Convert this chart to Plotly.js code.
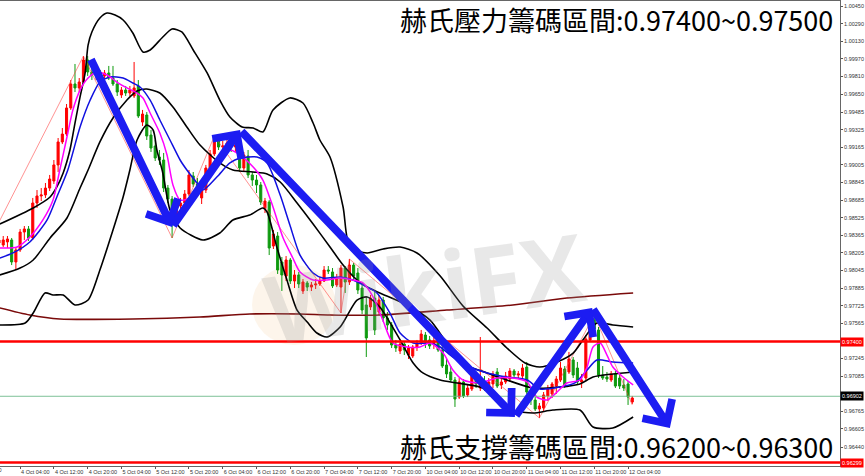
<!DOCTYPE html>
<html>
<head>
<meta charset="utf-8">
<script src="https://cdn.plot.ly/plotly-3.0.1.min.js"></script>
<style>html,body{margin:0;padding:0;background:#fff;}#chart{width:865px;height:476px;}</style>
</head>
<body>
<div id="chart"></div>
<script>
// ---- hourly OHLC bars, 3 Oct 23:00 -> 12 Oct 05:00 (bar index = category) ----
const openP = [0.98295,0.98277,0.98305,0.98323,0.98123,0.98232,0.98395,0.98423,0.98341,0.98659,
0.98723,0.98732,0.98795,0.98859,0.99005,0.99214,0.99286,0.99523,0.99741,0.99705,
0.99759,0.99959,0.99850,0.99823,0.99832,0.99814,0.99841,0.99795,0.99741,0.99641,
0.99686,0.99659,0.99632,0.99723,0.99395,0.99459,0.99277,0.99177,0.99077,0.99050,
0.98795,0.98695,0.98550,0.98632,0.98659,0.98741,0.98905,0.98832,0.98705,0.98777,
0.98977,0.99105,0.99223,0.99168,0.99177,0.99205,0.99168,0.99195,0.98977,0.99086,
0.98914,0.98868,0.98823,0.98614,0.98668,0.98268,0.98359,0.98123,0.97995,0.98141,
0.97950,0.98005,0.97859,0.97932,0.97895,0.97914,0.97923,0.97950,0.98050,0.98032,
0.97914,0.97895,0.98068,0.97941,0.98095,0.98023,0.97886,0.97732,0.97714,0.97795,
0.97668,0.97777,0.97614,0.97550,0.97368,0.97314,0.97377,0.97277,0.97268,0.97350,
0.97386,0.97459,0.97414,0.97377,0.97395,0.97323,0.97186,0.97123,0.97050,0.96895,
0.97032,0.96914,0.96968,0.97086,0.96977,0.97023,0.96977,0.97014,0.97123,0.97005,
0.97032,0.97059,0.97132,0.97095,0.97086,0.97168,0.96941,0.96868,0.96786,0.96795,
0.96905,0.96923,0.96995,0.97050,0.97150,0.97123,0.97232,0.97159,0.97032,0.97068,
0.97414,0.97595,0.97505,0.97095,0.97077,0.97050,0.97105,0.97068,0.97005,0.97014,
0.96850];
const highP = [0.98350,0.98359,0.98359,0.98341,0.98259,0.98423,0.98450,0.98450,0.98705,0.98777,
0.98795,0.98841,0.98914,0.99050,0.99250,0.99341,0.99559,0.99777,0.99923,0.99795,
0.99995,0.99995,0.99959,0.99868,0.99868,0.99868,0.99905,0.99905,0.99777,0.99714,
0.99723,0.99723,0.99941,0.99777,0.99505,0.99486,0.99323,0.99232,0.99141,0.99114,
0.98823,0.98723,0.98686,0.98705,0.98777,0.98959,0.98941,0.98886,0.98814,0.99005,
0.99141,0.99268,0.99250,0.99223,0.99250,0.99232,0.99223,0.99223,0.99123,0.99141,
0.98941,0.98914,0.98850,0.98705,0.98686,0.98414,0.98395,0.98168,0.98177,0.98159,
0.98050,0.98032,0.97968,0.97950,0.97941,0.97968,0.97986,0.98086,0.98086,0.98068,
0.98014,0.98095,0.98086,0.98150,0.98114,0.98068,0.97941,0.97805,0.97823,0.97868,
0.97823,0.97805,0.97668,0.97577,0.97414,0.97405,0.97395,0.97368,0.97368,0.97414,
0.97505,0.97486,0.97450,0.97441,0.97432,0.97359,0.97250,0.97177,0.97077,0.97068,
0.97059,0.97005,0.97123,0.97114,0.97441,0.97086,0.97068,0.97132,0.97159,0.97068,
0.97123,0.97159,0.97150,0.97132,0.97195,0.97214,0.96959,0.96895,0.96841,0.96941,
0.97005,0.97032,0.97086,0.97214,0.97177,0.97305,0.97259,0.97214,0.97105,0.97459,
0.97559,0.97641,0.97532,0.97177,0.97123,0.97132,0.97132,0.97105,0.97059,0.97041,
0.96905];
const lowP = [0.98250,0.98259,0.98250,0.98095,0.98050,0.98214,0.98323,0.98314,0.98323,0.98614,
0.98677,0.98705,0.98768,0.98832,0.98941,0.99195,0.99268,0.99505,0.99668,0.99668,
0.99741,0.99814,0.99777,0.99777,0.99786,0.99786,0.99777,0.99723,0.99632,0.99614,
0.99632,0.99632,0.99614,0.99432,0.99359,0.99232,0.99123,0.99041,0.99005,0.98759,
0.98659,0.98341,0.98523,0.98605,0.98641,0.98723,0.98805,0.98759,0.98650,0.98750,
0.98941,0.99086,0.99141,0.99132,0.99132,0.99123,0.99123,0.98941,0.98941,0.98886,
0.98814,0.98750,0.98641,0.98568,0.98186,0.98241,0.98014,0.97859,0.97950,0.97923,
0.97886,0.97886,0.97832,0.97859,0.97859,0.97877,0.97905,0.97941,0.98014,0.97886,
0.97895,0.97659,0.97841,0.97914,0.97959,0.97832,0.97650,0.97259,0.97686,0.97459,
0.97641,0.97577,0.97505,0.97341,0.97305,0.97286,0.97277,0.97241,0.97250,0.97314,
0.97368,0.97341,0.97332,0.97332,0.97305,0.97159,0.97068,0.97032,0.96805,0.96877,
0.96886,0.96895,0.96950,0.96977,0.96950,0.96950,0.96959,0.96977,0.96977,0.96968,
0.97014,0.97032,0.97068,0.97059,0.97059,0.96923,0.96823,0.96768,0.96705,0.96768,
0.96859,0.96886,0.96923,0.97032,0.96977,0.97105,0.97068,0.97005,0.96977,0.97050,
0.97395,0.97495,0.97068,0.97050,0.97032,0.97032,0.96977,0.96968,0.96950,0.96823,
0.96832];
const closeP = [0.98323,0.98323,0.98332,0.98123,0.98232,0.98395,0.98423,0.98341,0.98659,0.98723,
0.98732,0.98795,0.98877,0.99005,0.99214,0.99286,0.99523,0.99741,0.99705,0.99759,
0.99959,0.99850,0.99823,0.99832,0.99814,0.99841,0.99795,0.99741,0.99668,0.99686,
0.99659,0.99686,0.99705,0.99450,0.99468,0.99268,0.99159,0.99068,0.99050,0.98795,
0.98695,0.98550,0.98632,0.98659,0.98741,0.98914,0.98832,0.98795,0.98777,0.98977,
0.99105,0.99223,0.99168,0.99177,0.99205,0.99168,0.99186,0.98977,0.99095,0.98914,
0.98868,0.98823,0.98668,0.98677,0.98250,0.98377,0.98050,0.98005,0.98141,0.97950,
0.98005,0.97923,0.97941,0.97895,0.97914,0.97923,0.97950,0.98050,0.98041,0.97905,
0.97977,0.98068,0.97941,0.98095,0.97995,0.97868,0.97686,0.97432,0.97795,0.97505,
0.97777,0.97614,0.97550,0.97368,0.97341,0.97377,0.97323,0.97341,0.97350,0.97386,
0.97468,0.97395,0.97359,0.97405,0.97323,0.97177,0.97105,0.97050,0.96877,0.97032,
0.96905,0.96977,0.97095,0.97014,0.97023,0.96977,0.97032,0.97105,0.96995,0.97032,
0.97086,0.97132,0.97095,0.97105,0.97159,0.96941,0.96868,0.96786,0.96814,0.96914,
0.96968,0.97014,0.97059,0.97159,0.97005,0.97241,0.97095,0.97032,0.97050,0.97423,
0.97523,0.97514,0.97095,0.97068,0.97059,0.97105,0.96995,0.96995,0.96977,0.96895,
0.96886];

// ---- indicator lines (bar index, price) ----
const bbUpperX = [0.2,8.1,12.1,13.7,15.2,16.8,18.0,19.2,20.4,21.1,22.0,23.9,25.6,27.5,29.4,31.7,34.1,35.8,38.8,41.0,43.3,46.0,49.3,52.3,54.7,57.6,60.2,62.5,64.9,68.9,72.0,74.4,76.0,78.4,81.5,83.1,87.2,91.0,95.0,99.0,104.5,109.9,115.6,120.3,124.6,128.1,132.2,136.0,138.3,141.6,145.4,150.2];
const bbUpperY = [0.98468,0.98614,0.98714,0.98805,0.98932,0.99141,0.99386,0.99623,0.99841,1.00095,1.00214,1.00341,1.00386,1.00368,1.00323,1.00205,1.00032,1.00050,1.00168,1.00241,1.00214,1.00050,0.99841,0.99595,0.99441,0.99350,0.99341,0.99305,0.99505,0.99614,0.99568,0.99386,0.99232,0.99077,0.98623,0.98259,0.98205,0.98241,0.98259,0.98205,0.97995,0.97723,0.97523,0.97341,0.97205,0.97168,0.97214,0.97295,0.97414,0.97568,0.97550,0.97532];
const bbMidX = [0.2,5.0,8.1,12.1,16.1,19.2,21.1,23.9,27.0,30.3,32.7,35.0,38.1,41.2,44.5,47.6,52.3,55.4,60.2,63.5,66.6,70.6,74.4,78.4,81.5,84.8,87.2,90.2,96.6,102.1,106.1,110.8,115.6,120.3,126.5,132.9,137.6,140.7,145.4,150.2];
const bbMidY = [0.98005,0.98068,0.98141,0.98341,0.98523,0.98795,0.98959,0.99214,0.99432,0.99595,0.99677,0.99695,0.99659,0.99532,0.99350,0.99186,0.99023,0.98959,0.98941,0.98923,0.98850,0.98659,0.98468,0.98259,0.98095,0.97959,0.97895,0.97841,0.97732,0.97595,0.97386,0.97186,0.97114,0.97050,0.96977,0.96986,0.97014,0.97077,0.97105,0.97123];
const bbLowerX = [0.2,6.2,8.1,10.9,12.8,15.2,18.0,21.1,23.9,27.0,29.4,31.0,32.7,35.0,36.5,37.4,38.8,40.5,42.9,48.3,52.3,55.4,59.4,62.5,63.5,65.8,68.2,70.6,73.0,75.3,77.7,80.8,84.8,87.2,90.2,95.0,98.1,100.4,104.5,108.5,113.9,117.9,121.7,126.5,131.2,137.6,140.7,145.4,150.2];
const bbLowerY = [0.97550,0.97568,0.97659,0.97841,0.97823,0.97823,0.97732,0.97777,0.98050,0.98414,0.98714,0.98959,0.99232,0.99368,0.99323,0.99141,0.98932,0.98595,0.98432,0.98323,0.98386,0.98505,0.98550,0.98614,0.98577,0.98259,0.97959,0.97686,0.97577,0.97477,0.97441,0.97532,0.97777,0.97805,0.97714,0.97414,0.97205,0.97114,0.97050,0.97023,0.96986,0.96895,0.96777,0.96750,0.96777,0.96777,0.96623,0.96614,0.96714];
const maSlowX = [0.2,3.3,7.3,11.4,13.7,16.3,19.2,21.6,23.9,26.3,29.4,31.7,33.4,35.8,38.1,40.5,42.9,44.5,46.9,48.3,51.6,54.7,57.1,61.1,63.5,66.6,68.9,71.3,74.4,76.7,80.8,83.8,87.2,89.5,92.6,95.0,98.1,102.1,104.5,107.5,111.6,115.6,120.3,125.1,128.1,132.9,136.4,139.3,141.6,145.4,150.2];
const maSlowY = [0.98159,0.98205,0.98305,0.98505,0.98714,0.98959,0.99350,0.99595,0.99759,0.99805,0.99795,0.99750,0.99714,0.99595,0.99414,0.99232,0.99050,0.98959,0.98841,0.98777,0.98895,0.99023,0.99068,0.99077,0.99023,0.98732,0.98459,0.98186,0.98023,0.97977,0.97986,0.97959,0.97895,0.97841,0.97659,0.97477,0.97386,0.97386,0.97350,0.97259,0.97168,0.97114,0.97077,0.97050,0.96968,0.96986,0.97023,0.97141,0.97232,0.97214,0.97205];
const maFastX = [0.2,4.3,7.3,10.4,12.8,14.4,16.1,17.5,19.2,21.1,23.2,25.6,27.9,30.3,32.7,34.1,35.8,38.1,39.8,41.2,42.9,45.2,47.6,49.3,51.6,54.7,57.1,60.2,62.5,64.9,67.3,69.6,71.3,74.4,77.7,80.8,83.8,86.2,88.6,90.9,93.3,96.6,99.7,102.1,105.2,107.5,109.9,113.9,117.9,121.7,125.1,127.4,129.8,132.2,134.5,137.6,139.3,140.7,142.4,144.0,145.4,147.8,150.2];
const maFastY = [0.98250,0.98259,0.98350,0.98505,0.98686,0.98959,0.99259,0.99505,0.99686,0.99795,0.99850,0.99823,0.99759,0.99705,0.99659,0.99614,0.99477,0.99295,0.99095,0.98823,0.98686,0.98705,0.98777,0.98868,0.99050,0.99141,0.99095,0.98986,0.98868,0.98623,0.98341,0.98159,0.98032,0.97959,0.97959,0.97977,0.97959,0.97932,0.97805,0.97595,0.97386,0.97350,0.97350,0.97386,0.97295,0.97141,0.97050,0.97023,0.97068,0.97068,0.97032,0.96895,0.96868,0.96941,0.97023,0.97050,0.97168,0.97350,0.97386,0.97277,0.97168,0.97077,0.97005];
const ma200X = [0.2,7.3,14.4,31.7,47.6,59.4,71.3,78.4,90.2,106.1,121.7,134.5,150.2];
const ma200Y = [0.97705,0.97641,0.97605,0.97605,0.97623,0.97650,0.97650,0.97641,0.97641,0.97686,0.97732,0.97795,0.97841];
const zigzagX = [0,20,41,51,81,83,128,141,150];
const zigzagY = [0.98486,0.99995,0.98341,0.99268,0.97659,0.98150,0.96705,0.97641,0.96823];

// ---- drawn trend arrows: [tailIdx, tailPrice, headIdx, headPrice] ----
const trendArrows = [
  [21.6,0.99977,41.0,0.98441],
  [41.0,0.98441,57.1,0.99323],
  [57.1,0.99323,122.2,0.96714],
  [122.2,0.96714,140.5,0.97705],
  [140.5,0.97705,158.9,0.96614]
];

// ---- levels & labels ----
const resistLevel = 0.97400;
const supportLevel = 0.96299;
const lastPrice = 0.96902;
const titleTop = '赫氏壓力籌碼區間:0.97400~0.97500';
const titleBottom = '赫氏支撐籌碼區間:0.96200~0.96300';
const cutTickText = '3 Oct 20:00';
const xTickIdx = [5,13,21,29,37,45,53,61,69,77,85,93,101,109,117,125,133,141,149];
const xTickText = ['4 Oct 04:00','4 Oct 12:00','4 Oct 20:00','5 Oct 04:00','5 Oct 12:00','5 Oct 20:00','6 Oct 04:00','6 Oct 12:00','6 Oct 20:00','7 Oct 04:00','7 Oct 12:00','7 Oct 20:00','10 Oct 04:00','10 Oct 12:00','10 Oct 20:00','11 Oct 04:00','11 Oct 12:00','11 Oct 20:00','12 Oct 04:00'];
const yTickText = ['1.00450','1.00290','1.00130','0.99970','0.99810','0.99650','0.99485','0.99325','0.99165','0.99005','0.98845','0.98685','0.98525','0.98365','0.98205','0.98045','0.97885','0.97725','0.97565','0.97245','0.97085','0.96765','0.96605','0.96440'];
const yTickVals = yTickText.map(Number);
const barIdx = openP.map((_, k) => k);

const lineTrace = (x, y, color, width) => ({
  type: 'scatter', mode: 'lines', x: x, y: y, hoverinfo: 'skip',
  line: {color: color, width: width, shape: 'spline', smoothing: 0.7}
});

const traces = [
  {
    type: 'candlestick', x: barIdx, open: openP, high: highP, low: lowP, close: closeP,
    increasing: {line: {color: '#ff0000', width: 1}, fillcolor: '#ff0000'},
    decreasing: {line: {color: '#0f9a0f', width: 1}, fillcolor: '#0f9a0f'},
    whiskerwidth: 0, hoverinfo: 'skip'
  },
  {type: 'scatter', mode: 'lines', x: zigzagX, y: zigzagY, hoverinfo: 'skip', line: {color: 'rgba(255,60,60,0.8)', width: 0.7}},
  lineTrace(ma200X, ma200Y, '#7a0a0a', 1.6),
  lineTrace(bbUpperX, bbUpperY, '#000000', 1.6),
  lineTrace(bbMidX, bbMidY, '#000000', 1.6),
  lineTrace(bbLowerX, bbLowerY, '#000000', 1.6),
  lineTrace(maSlowX, maSlowY, '#1010e0', 1.5),
  lineTrace(maFastX, maFastY, '#ff00ff', 1.5)
];

const axisFont = {family: 'Liberation Sans', size: 5.5, color: '#333'};
const annotations = [];
trendArrows.forEach(a => {
  annotations.push({
    x: a[2], y: a[3], ax: a[0], ay: a[1], xref: 'x', yref: 'y', axref: 'x', ayref: 'y',
    text: '', showarrow: true, arrowhead: 4, arrowsize: 0.85, arrowwidth: 8,
    arrowcolor: '#1c1cf2', standoff: 0, startstandoff: 0
  });
});
annotations.push(
  {xref: 'paper', yref: 'paper', x: 0.994, y: 0.96, xanchor: 'right', yanchor: 'middle', showarrow: false,
   text: titleTop, font: {family: 'Noto Sans CJK TC', size: 27, color: '#000'}},
  {xref: 'paper', yref: 'paper', x: 0.994, y: 0.041, xanchor: 'right', yanchor: 'middle', showarrow: false,
   text: titleBottom, font: {family: 'Noto Sans CJK TC', size: 27, color: '#000'}},
  {xref: 'paper', yref: 'paper', x: 0.505, y: 0.385, xanchor: 'center', yanchor: 'middle', showarrow: false, textangle: -8,
   text: '<b>WikiFX</b>', font: {family: 'Open Sans', size: 94, color: 'rgba(150,150,150,0.22)'}},
  {xref: 'paper', yref: 'y', x: 1, y: resistLevel, xanchor: 'left', yanchor: 'middle', showarrow: false,
   text: resistLevel.toFixed(5), bgcolor: '#ff0000', borderpad: 1, font: {family: 'Liberation Sans', size: 5.5, color: '#fff'}},
  {xref: 'paper', yref: 'y', x: 1, y: lastPrice, xanchor: 'left', yanchor: 'middle', showarrow: false,
   text: lastPrice.toFixed(5), bgcolor: '#000000', borderpad: 1, font: {family: 'Liberation Sans', size: 5.5, color: '#fff'}},
  {xref: 'paper', yref: 'y', x: 1, y: supportLevel, xanchor: 'left', yanchor: 'middle', showarrow: false,
   text: supportLevel.toFixed(5), bgcolor: '#ff0000', borderpad: 1, font: {family: 'Liberation Sans', size: 5.5, color: '#fff'}},
  {xref: 'paper', yref: 'paper', x: 0.004, y: -0.0095, xanchor: 'right', yanchor: 'middle', showarrow: false,
   text: cutTickText, font: axisFont}
);

const shapes = [
  {type: 'circle', xref: 'paper', yref: 'paper', x0: 0.30, x1: 0.40, y0: 0.26, y1: 0.432,
   fillcolor: 'rgba(240,195,130,0.16)', line: {width: 0}, layer: 'below'},
  {type: 'line', xref: 'paper', yref: 'y', x0: 0, x1: 1, y0: lastPrice, y1: lastPrice,
   line: {color: 'rgba(110,185,140,0.9)', width: 1}},
  {type: 'line', xref: 'paper', yref: 'y', x0: 0, x1: 1, y0: resistLevel, y1: resistLevel,
   line: {color: '#ff0000', width: 2.5}},
  {type: 'line', xref: 'paper', yref: 'y', x0: 0, x1: 1, y0: supportLevel, y1: supportLevel,
   line: {color: '#ff0000', width: 2.5}}
];

const layout = {
  width: 865, height: 476,
  margin: {l: 0, r: 25, t: 1, b: 10, pad: 0},
  paper_bgcolor: '#ffffff', plot_bgcolor: '#ffffff',
  showlegend: false, hovermode: false,
  xaxis: {
    range: [0.237, 199.2], showgrid: false, zeroline: false,
    rangeslider: {visible: false},
    tickmode: 'array', tickvals: xTickIdx, ticktext: xTickText, tickangle: 0,
    ticks: 'outside', ticklen: 2, tickcolor: '#555', ticklabelposition: 'outside right',
    ticklabelstandoff: 0,
    tickfont: axisFont,
    showline: true, mirror: true, linecolor: '#666', linewidth: 1
  },
  yaxis: {
    range: [0.962682, 1.004955], side: 'right', showgrid: false, zeroline: false,
    tickmode: 'array', tickvals: yTickVals, ticktext: yTickText,
    ticks: 'outside', ticklen: 2, tickcolor: '#555', ticklabelstandoff: 0,
    tickfont: axisFont,
    showline: true, linecolor: '#666', linewidth: 1
  },
  annotations: annotations,
  shapes: shapes
};

Plotly.newPlot('chart', traces, layout, {staticPlot: true, displayModeBar: false});
</script>
</body>
</html>
